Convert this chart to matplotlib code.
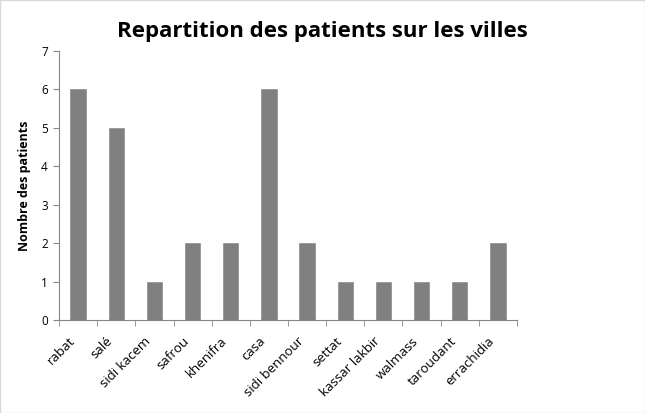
import matplotlib
matplotlib.use("Agg")
import matplotlib.pyplot as plt
import matplotlib.transforms as mtransforms
import numpy as np

# data
villes = ["rabat", "salé", "sidi kacem", "safrou", "khenifra", "casa",
          "sidi bennour", "settat", "kassar lakbir", "walmass", "taroudant",
          "errachidia"]
patients = [6, 5, 1, 2, 2, 6, 2, 1, 1, 1, 1, 2]

plt.rcParams['font.family'] = ['Open Sans', 'DejaVu Sans']

fig = plt.figure(figsize=(6.45, 4.13), dpi=100)
ax = fig.add_axes([59 / 645, 1 - 320 / 413, 458 / 645, 269 / 413])

x = np.arange(len(villes))
ax.bar(x, patients, width=0.4, color="#808080", edgecolor="#8c8c8c", linewidth=0.5)

ax.set_xlim(-0.5, len(villes) - 0.5)
ax.set_ylim(0, 7)
ax.set_yticks(range(0, 8))

ax.set_xticks(x)
ax.set_xticks(np.arange(-0.5, len(villes)), minor=True)
ax.tick_params(axis="x", which="major", length=0, pad=10.5)
ax.tick_params(axis="x", which="minor", length=4, color="#868686", direction="out")
ax.tick_params(axis="y", length=4, color="#868686", labelsize=8.5, pad=4)

ax.set_xticklabels(villes, rotation=45, ha="right", va="top",
                   rotation_mode="anchor", fontsize=9.5)
# excel-like placement: label ends left of the category centre
# (done after tick_params, which resets label transforms)
shift = mtransforms.ScaledTranslation(-10 / 100, 0, fig.dpi_scale_trans)
for lbl in ax.get_xticklabels():
    lbl.set_transform(lbl.get_transform() + shift)

for s in ["top", "right"]:
    ax.spines[s].set_visible(False)
for s in ["left", "bottom"]:
    ax.spines[s].set_color("#868686")

ax.set_ylabel("Nombre des patients", fontsize=9, fontweight="bold", labelpad=7)
fig.text(0.5, 1 - 31 / 413, "Repartition des patients sur les villes",
         ha="center", va="center", fontsize=16, fontweight="bold")

fig.patches.append(plt.Rectangle((0, 0), 1, 1, transform=fig.transFigure,
                                 fill=False, edgecolor="#d9d9d9", linewidth=1))

fig.savefig("out.png", dpi=100)
